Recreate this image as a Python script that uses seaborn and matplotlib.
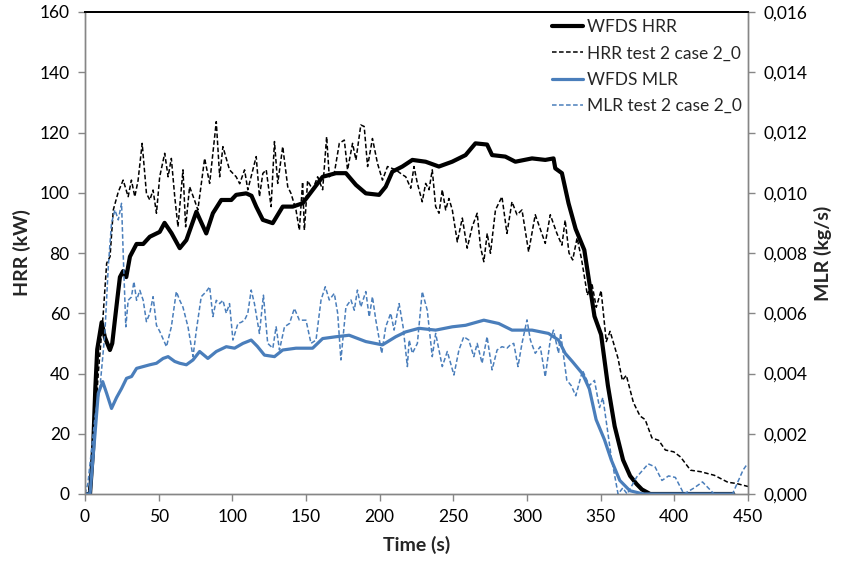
import matplotlib
matplotlib.use("Agg")
import matplotlib.pyplot as plt
import seaborn as sns
from matplotlib.ticker import FuncFormatter

# ---------------- data ----------------
# WFDS HRR (kW)
t_wfds_hrr = [0, 3.4, 5.5, 7, 8.3, 11.3, 13.5, 16.9, 18.5, 20.3, 22, 23.7, 25.9, 28, 30.5, 35, 39.5, 44,
              50.7, 54, 58.7, 64.3, 68.8, 75.6, 82.3, 86.8, 92.5, 99.3, 102.6, 109.4, 113, 116.2, 120.7,
              127.4, 134.2, 141, 147.7, 154.5, 161.3, 170.3, 177.1, 183.9, 190.6, 199.6, 204.1, 208.6,
              215.4, 222.2, 231.2, 240.2, 249.2, 258.3, 265, 272.9, 276.3, 285.3, 292.1, 303.4, 312.4,
              318, 319.2, 323.7, 328.2, 333, 338.9, 345.8, 350.3, 354.9, 359.5, 365.2, 370, 374.4, 378,
              383.6, 440]
hrr_wfds = [0, 0, 15, 35, 48, 57, 52, 47.8, 50, 57.8, 65, 72, 74, 72, 78.8, 83, 83, 85.4,
            87, 90, 86.6, 81.6, 84.3, 93.7, 86.5, 93.2, 97.6, 97.6, 99.3, 99.8, 99, 95.4, 91,
            89.9, 95.4, 95.4, 96.5, 100.9, 105.3, 106.5, 106.5, 102.6, 99.8, 99.3, 102, 107,
            108.7, 110.9, 110.3, 108.7, 110.3, 112.5, 116.4, 116, 112.5, 112, 110.3, 111.4, 110.9,
            111.4, 108.1, 106.5, 96.5, 88, 81, 59, 52.9, 36, 22.5, 11.3, 6, 3.3, 1.5,
            0, 0]

# HRR test 2 case 2_0 (kW)
t_test_hrr = [0, 2, 4, 5.6, 9, 12.4, 14.7, 17, 19.2, 22.6, 25.9, 29.3, 31.5, 33.8, 36, 38.8, 41.7, 44,
              46.2, 48.5, 50.7, 54.1, 56.4, 58.6, 60.9, 63.1, 66.5, 68.3, 71, 74.3, 76.6, 81.2, 84.6,
              89.1, 91.4, 93.6, 98.1, 102.6, 105, 108.3, 110.5, 116.2, 118.4, 120.7, 123, 126.3, 128.6,
              130.8, 134.2, 137.6, 139.8, 143.2, 145.5, 147.7, 148.9, 151.1, 154.5, 157.9, 161.3, 164,
              165.8, 169.2, 172.6, 176, 178.2, 181.6, 183.9, 187.2, 189.5, 191.8, 195.1, 198.5, 201.9,
              205.3, 210.9, 215.4, 217.7, 221.1, 223.3, 225.6, 228.9, 231.2, 233.5, 235.7, 238, 240.3,
              242.5, 244.8, 247, 249.3, 252.7, 256.1, 259.4, 262.8, 266.2, 268.4, 270.7, 273, 275.2,
              278.6, 283, 286.4, 289.8, 293.2, 296.6, 301.1, 305.6, 309, 312.4, 315.8, 320.3, 323.7,
              325.9, 328.5, 331, 334, 337, 341, 344, 347, 350.3, 353.8, 356.4, 361.8, 364.7, 367.4,
              372.2, 376.7, 380.2, 384.8, 389.4, 393.9, 399.6, 404.2, 411, 417.9, 427.2, 436.3, 442, 450]
hrr_test = [0, 0, 5, 14.6, 40, 60, 76.6, 78.8, 94.3, 100.3, 104.2, 98.7, 104.2, 98.7, 104, 116.4, 99.8, 97.6,
            100.9, 93.2, 105.3, 113.1, 105.3, 111.4, 98.7, 88.7, 107.6, 88.7, 102, 97.6, 94.3, 111.4, 103.1,
            123.6, 105.3, 115.3, 107.6, 105.3, 103, 107.6, 101, 112, 98.7, 106.4, 107.6, 95.4, 117,
            103.1, 115.3, 102, 99.8, 94.3, 87.6, 103.6, 87.6, 104, 101, 105.3, 101, 118.6,
            105.3, 106.4, 116.4, 117.5, 107.6, 116.4, 110.9, 122.5, 122, 108.7, 118, 109.8, 104.2,
            108.7, 107.6, 106, 105.3, 101.5, 108.7, 103.1, 97, 103.1, 101, 107.6, 95.4, 93.2,
            101, 94.3, 98.1, 94.3, 83.7, 91.6, 81.6, 88.7, 93.2, 82.1, 77.1, 86.5, 79.9,
            94.3, 98.7, 86.5, 97, 92.7, 94.3, 80.4, 92.7, 88, 83.2, 92.7, 86.5, 82.6,
            90.9, 80, 77.7, 85, 78, 66, 70, 62, 67.5, 50.6, 54, 45, 37.7, 39.4,
            30.4, 25.9, 24.7, 18.6, 17.8, 14.6, 14, 12.3, 7.9, 7.4, 6.2, 3.9, 3.5, 2.5]

# WFDS MLR (kg/s)
t_wfds_mlr = [0, 3.4, 6.8, 9, 12, 14.7, 18, 21.4, 24.8, 28.2, 31.6, 35, 39.5, 44, 48.5, 53, 56.4, 60.9,
              64.3, 68.8, 73.3, 77.8, 83.4, 89.1, 95.9, 101.5, 107.2, 112.8, 117, 121.8, 128.6, 134.2,
              143.2, 154.5, 161.3, 170.3, 179.3, 190.6, 201.9, 210.9, 217.6, 226.7, 238, 249.3, 258.3,
              270.7, 280.8, 289.8, 303.4, 314.6, 321.4, 325.9, 330.9, 337.7, 342.3, 346.9, 352.6, 357.2,
              363, 369.8, 379, 440]
mlr_wfds = [0, 0, 0.0020, 0.00334, 0.00373, 0.00334, 0.00284, 0.0032, 0.0035, 0.00384, 0.0039, 0.00417,
            0.00423, 0.00429, 0.00434, 0.0045, 0.00456, 0.0044,
            0.00434, 0.00429, 0.00445, 0.00473, 0.0045, 0.00473, 0.00489, 0.00484, 0.0050, 0.00511,
            0.0049, 0.00461, 0.00456, 0.00478,
            0.00484, 0.00484, 0.00516, 0.00522, 0.00527, 0.00506, 0.00495, 0.00522, 0.00538, 0.0055,
            0.00544, 0.00555, 0.0056,
            0.00577, 0.00566, 0.00544, 0.00544, 0.00533, 0.00511, 0.00467, 0.00439, 0.00399, 0.00349,
            0.00247, 0.0018, 0.00113,
            0.00045, 0.00011, 0, 0]

# MLR test 2 case 2_0 (kg/s)
t_test_mlr = [0, 2, 4.5, 6.8, 10.2, 13.5, 15.8, 18, 20.3, 22.6, 24.8, 26, 27.7, 29.3, 31.5, 33.2, 35, 37.2,
              39.5, 41.7, 44, 46.2, 48.5, 50.7, 55.3, 58.6, 62, 64.3, 66.5, 69.9, 73.3, 75.6, 78.9, 82.3,
              84.6, 86.8, 89.1, 91.4, 93.6, 95.9, 98.1, 100.4, 103.8, 106, 108.3, 110.5, 112.8, 115,
              118.4, 121.1, 124, 127.5, 129.7, 132, 135.4, 138.8, 142.1, 145.5, 150, 153.4, 156.8,
              160.2, 163.1, 165.8, 169.2, 171.5, 173.7, 177.1, 180.5, 182.8, 184.9, 187.2, 190.6,
              192.9, 195.1, 197.4, 201.4, 204.1, 207.5, 209.8, 213.2, 215.9, 218.8, 220, 222.2, 225.6,
              228.9, 232.3, 235.7, 238, 242.5, 245.9, 250.4, 253.8, 257.1, 260.5, 263.9, 266.2, 269.5,
              272.9, 276.3, 279.7, 283, 286.4, 288.7, 291, 293.9, 296.6, 300, 302.3, 305.6, 309,
              312.4, 315.8, 318, 321.4, 322.8, 327, 330, 333.1, 337.7, 342.3, 345.8, 349.2, 351.5,
              357.2, 361.8, 365, 368, 374.4, 382.3, 386.9, 391.6, 396.1, 400.7, 406.5, 413.4, 419.1,
              427, 439.5, 446.6, 449]
mlr_test = [0, 0.00036, 0.0015, 0.00257, 0.00356, 0.00534, 0.00755, 0.00899, 0.00943, 0.0091, 0.00965,
            0.00788, 0.00555, 0.00643, 0.00654, 0.00705, 0.00643, 0.00676,
            0.00643, 0.00572, 0.006, 0.00655, 0.0056, 0.0054, 0.00489, 0.00555, 0.00672, 0.00643,
            0.0062, 0.00555, 0.00456, 0.00544, 0.00655, 0.00672,
            0.00688, 0.00589, 0.00643, 0.00632, 0.00643, 0.006, 0.00632, 0.00511, 0.00566, 0.0057,
            0.00577, 0.006, 0.00677, 0.00632,
            0.00533, 0.0066, 0.005, 0.00484, 0.00555, 0.00478, 0.00555, 0.00566, 0.00616, 0.00577,
            0.00577, 0.005, 0.00511,
            0.00644, 0.00688, 0.00644, 0.00666, 0.006, 0.00445, 0.00621, 0.00644, 0.0061, 0.00677,
            0.00621, 0.00672,
            0.00588, 0.00655, 0.00577, 0.00467, 0.00555, 0.006, 0.00544, 0.00632, 0.00555, 0.00423,
            0.00511, 0.00467, 0.005,
            0.00672, 0.0061, 0.00456, 0.00533, 0.00423, 0.00473, 0.00395, 0.00478, 0.00522, 0.00511,
            0.00456, 0.005, 0.00434,
            0.00522, 0.00412, 0.00478, 0.00489, 0.00484, 0.00495, 0.005, 0.00423, 0.005, 0.00578,
            0.00511, 0.00467, 0.00489,
            0.00389, 0.00511, 0.00544, 0.00467, 0.00534, 0.00378, 0.0036, 0.00326, 0.0041, 0.0036,
            0.00377, 0.00287, 0.0032,
            0.00123, 0, 0.0002, 0, 0.00056, 0.001, 0.0009, 0.00045, 0.0006, 0.00055, 0, 0.0002, 0.0004,
            0, 0, 0.00079, 0.00096]

x_ticks = [0, 50, 100, 150, 200, 250, 300, 350, 400, 450]
hrr_ticks = [0, 20, 40, 60, 80, 100, 120, 140, 160]
mlr_ticks = [0, 0.002, 0.004, 0.006, 0.008, 0.010, 0.012, 0.014, 0.016]

# ---------------- style ----------------
sns.set_theme(style="white")
plt.rcParams["font.family"] = ["Lato", "DejaVu Sans"]

BLUE = "#4a7ebb"
GRAY = "#868686"

fig = plt.figure(figsize=(8.42, 5.62), dpi=100)
ax = fig.add_axes([85 / 842, 1 - 494 / 562, (748 - 85) / 842, (494 - 12) / 562])
ax2 = ax.twinx()

sns.lineplot(x=t_wfds_hrr, y=hrr_wfds, ax=ax, color="black", linewidth=3.0,
             estimator=None, sort=False, label="WFDS HRR", legend=False)
sns.lineplot(x=t_test_hrr, y=hrr_test, ax=ax, color="black", linewidth=1.1,
             estimator=None, sort=False, label="HRR test 2 case 2_0", legend=False)
ax.lines[-1].set_dashes([3, 1.6])
sns.lineplot(x=t_wfds_mlr, y=mlr_wfds, ax=ax2, color=BLUE, linewidth=2.3,
             estimator=None, sort=False, label="WFDS MLR", legend=False)
sns.lineplot(x=t_test_mlr, y=mlr_test, ax=ax2, color=BLUE, linewidth=1.1,
             estimator=None, sort=False, label="MLR test 2 case 2_0", legend=False)
ax2.lines[-1].set_dashes([3, 1.6])

ax.set_xlim(0, 450)
ax.set_ylim(0, 160)
ax2.set_ylim(0, 0.016)
ax.set_xticks(x_ticks)
ax.set_yticks(hrr_ticks)
ax2.set_yticks(mlr_ticks)
ax2.yaxis.set_major_formatter(FuncFormatter(lambda v, p: f"{v:.3f}".replace(".", ",")))

for a in (ax, ax2):
    for s in ("left", "right", "bottom"):
        a.spines[s].set_color(GRAY)
        a.spines[s].set_linewidth(1.0)
    a.spines["top"].set_color("black")
    a.spines["top"].set_linewidth(1.3)
    a.tick_params(axis="both", which="major", direction="out", length=5, width=1,
                  color=GRAY, labelsize=12.5, labelcolor="black", pad=6)
    a.grid(False)
ax.tick_params(axis="y", left=True, right=False)
ax.tick_params(axis="x", bottom=True)
ax2.tick_params(axis="y", right=True, left=False)

ax.set_xlabel("Time (s)", fontsize=14, fontweight="bold", labelpad=8)
ax.set_ylabel("HRR (kW)", fontsize=14, fontweight="bold", labelpad=6)
ax2.set_ylabel("MLR (kg/s)", fontsize=14, fontweight="bold", labelpad=5)

h1, l1 = ax.get_legend_handles_labels()
h2, l2 = ax2.get_legend_handles_labels()
leg = ax2.legend(h1 + h2, l1 + l2, loc="upper left", bbox_to_anchor=(545 / 842, 1 - 12 / 562),
                 bbox_transform=fig.transFigure, frameon=False, fontsize=12.5,
                 handlelength=1.8, handletextpad=0.2, labelspacing=0.6, borderaxespad=0)

fig.savefig("out.png", dpi=100)
